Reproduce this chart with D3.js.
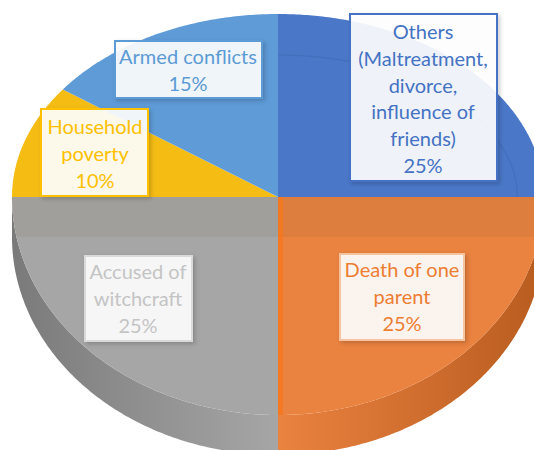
<!DOCTYPE html>
<html><head><meta charset="utf-8">
<script src="https://cdn.jsdelivr.net/npm/d3@7"></script>
<style>body{margin:0;background:#fff} svg{display:block}</style>
</head><body>
<script>
// ---- data ----
const categories = ["Others (Maltreatment, divorce, influence of friends)", "Death of one parent", "Accused of witchcraft", "Household poverty", "Armed conflicts"];
const values = [25, 25, 25, 10, 15];
const labelLines = [["Others","(Maltreatment,","divorce,","influence of","friends)"], ["Death of one","parent"], ["Accused of","witchcraft"], ["Household","poverty"], ["Armed conflicts"]];
const percentLabels = ["25%", "25%", "25%", "10%", "15%"];

// ---- styles / layout ----
const colors = ["#4A77C7", "#EA8240", "#A6A6A6", "#F5BC14", "#5E9BD7"];
const sideDark = ["#2f558f", "#b85c1f", "#7a7a7a", "#b88a00", "#3d73a8"];
const textColors = ["#4472C4", "#ED7D31", "#c4c4c4", "#FFC000", "#5B9BD5"];
const borderColors = ["#4472C4", "#f6c3a0", "#dadada", "#FFC000", "#5B9BD5"];
const boxLayout = [
  {x:350, y:14, w:147, h:167, cx:423, ty:32},
  {x:340, y:254, w:124, h:86, cx:402, ty:270},
  {x:85, y:256, w:107, h:85, cx:138, ty:272},
  {x:41, y:109, w:107, h:87, cx:95, ty:127},
  {x:115, y:41, w:147, h:57, cx:188, ty:57}
];
const lineH = 26.8;

const W = 534, H = 450;
const cx = 278, cy = 197, rx = 266, ryTop = 183, ryBot = 218, depth = 40;

const svg = d3.select("body").append("svg").attr("width", W).attr("height", H);
const defs = svg.append("defs");

const pie = d3.pie().sort(null).value(d => d)(values);
const angle = d3.scaleLinear().domain([0, 1]);

function pt(a, dy = 0) {
  const c = Math.cos(a);
  return [cx + rx * Math.sin(a), cy - (c > 0 ? ryTop : ryBot) * c + dy];
}
const line = d3.line();
function edgePts(a0, a1, dy = 0) {
  const n = Math.max(8, Math.ceil((a1 - a0) / 0.01));
  return d3.range(n + 1).map(i => pt(angle.range([a0, a1])(i / n), dy));
}
function slicePath(s) {
  return line([[cx, cy], ...edgePts(s.startAngle, s.endAngle)]) + "Z";
}

// clip for top face
defs.append("clipPath").attr("id", "topclip").append("path")
  .attr("d", line(edgePts(0, 2 * Math.PI)) + "Z");

// side gradients
pie.forEach((s, i) => {
  const g = defs.append("linearGradient").attr("id", "side" + i)
    .attr("gradientUnits", "userSpaceOnUse").attr("x1", cx - rx).attr("x2", cx + rx).attr("y1", 0).attr("y2", 0);
  g.append("stop").attr("offset", "0%").attr("stop-color", sideDark[i]);
  g.append("stop").attr("offset", "50%").attr("stop-color", colors[i]);
  g.append("stop").attr("offset", "100%").attr("stop-color", sideDark[i]);
});

// side walls (front half only)
pie.forEach((s, i) => {
  const a0 = Math.max(s.startAngle, Math.PI / 2), a1 = Math.min(s.endAngle, 3 * Math.PI / 2);
  if (a1 <= a0) return;
  const top = edgePts(a0, a1, 0), bot = edgePts(a0, a1, depth).reverse();
  svg.append("path").attr("d", line([...top, ...bot]) + "Z").attr("fill", `url(#side${i})`);
});

// top face
svg.append("g").selectAll("path").data(pie).join("path")
  .attr("d", slicePath).attr("fill", (d, i) => colors[i]);

// subtle highlight ring & band artifacts
const fx = svg.append("g").attr("clip-path", "url(#topclip)");
fx.append("rect").attr("x", 0).attr("y", cy).attr("width", W).attr("height", 40)
  .attr("fill", "#6b5530").attr("opacity", 0.09);
fx.append("rect").attr("x", cx).attr("y", cy).attr("width", 5).attr("height", H - cy)
  .attr("fill", "#f5781f").attr("opacity", 0.9);
fx.append("path").attr("d", line(edgePts(0, Math.PI/2).map(p => [cx + (p[0]-cx)*0.9, cy + (p[1]-cy)*0.776])))
  .attr("fill", "none").attr("stroke", "#3a62aa").attr("stroke-opacity", 0.35).attr("stroke-width", 1.2);

// label shadows
const f = defs.append("filter").attr("id", "shadow").attr("x", "-10%").attr("y", "-10%").attr("width", "130%").attr("height", "130%");
f.append("feDropShadow").attr("dx", 2).attr("dy", 2).attr("stdDeviation", 2).attr("flood-color", "#000").attr("flood-opacity", 0.2);

// labels
const lab = svg.append("g").selectAll("g").data(pie).join("g");
lab.append("rect")
  .attr("x", (d, i) => boxLayout[i].x).attr("y", (d, i) => boxLayout[i].y)
  .attr("width", (d, i) => boxLayout[i].w).attr("height", (d, i) => boxLayout[i].h)
  .attr("fill", "#fff").attr("fill-opacity", 0.9)
  .attr("stroke", (d, i) => borderColors[i]).attr("stroke-width", 2)
  .attr("filter", "url(#shadow)");
lab.each(function (d, i) {
  const lines = [...labelLines[i], percentLabels[i]];
  const b = boxLayout[i];
  d3.select(this).selectAll("text").data(lines).join("text")
    .attr("x", b.cx).attr("y", (t, j) => b.ty + j * lineH)
    .attr("dy", "0.35em").attr("text-anchor", "middle")
    .attr("font-family", "Lato, 'Open Sans', sans-serif").attr("font-size", 20)
    .attr("fill", textColors[i]).text(t => t);
});
</script>
</body></html>
